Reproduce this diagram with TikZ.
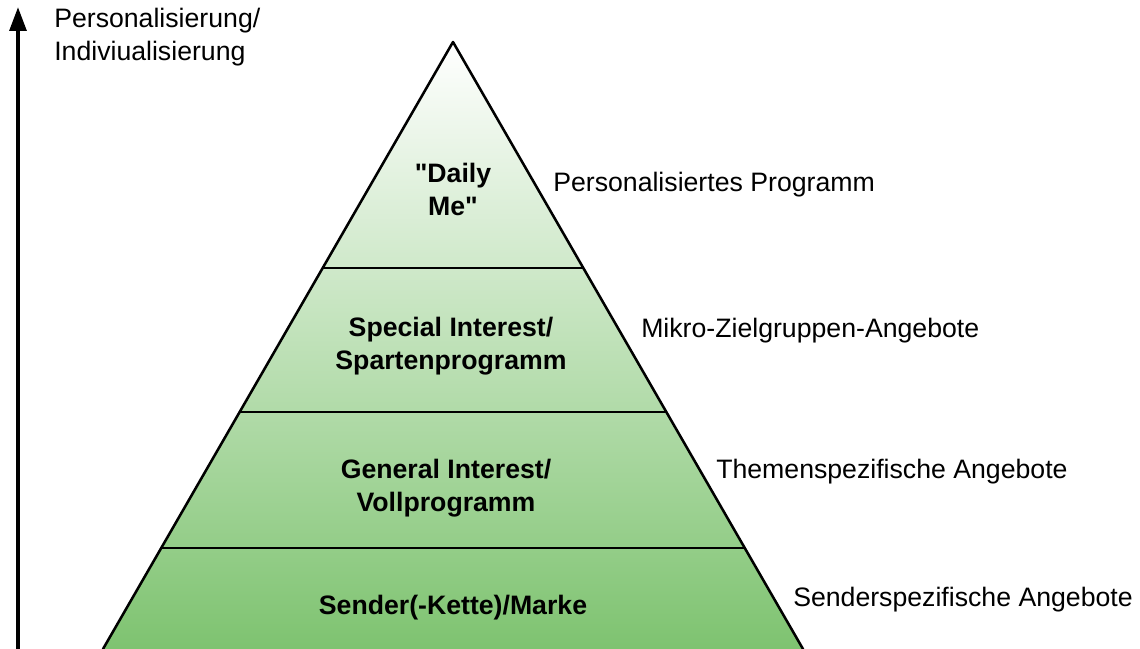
\documentclass[tikz,border=0pt]{standalone}
\usepackage{fontspec}
\setmainfont{Liberation Sans}[Ligatures=TeXOff]
\usetikzlibrary{arrows.meta,calc}
\definecolor{pyrgreen}{RGB}{126,195,112}
\tikzset{
  edge/.style={line width=1.9pt, line join=round, line cap=round},
  divider/.style={line width=1.8pt},
  layertext/.style={font=\fontsize{20}{24.75}\selectfont\bfseries, align=center, text=black, inner sep=0pt},
  sidetext/.style={font=\fontsize{20}{24.75}\selectfont, anchor=west, inner sep=0pt},
  axisarrow/.style={line width=3pt, -{Triangle[length=18pt,width=12.5pt]}}
}
\begin{document}
\begin{tikzpicture}[x=0.75pt,y=-0.75pt]
\useasboundingbox (0,0) rectangle (1140,649);

% pyramid corners
\coordinate (apex) at (453,42);
\coordinate (bl) at (103,649);
\coordinate (br) at (803,649);

% shaded body and outer edges
\shade[top color=white, bottom color=pyrgreen] (apex) -- (br) -- (bl) -- cycle;
\draw[edge] (bl) -- (apex) -- (br);

% layer borders
\coordinate (l1) at ($(apex)!0.3723!(bl)$);
\coordinate (r1) at ($(apex)!0.3723!(br)$);
\coordinate (l2) at ($(apex)!0.6096!(bl)$);
\coordinate (r2) at ($(apex)!0.6096!(br)$);
\coordinate (l3) at ($(apex)!0.8336!(bl)$);
\coordinate (r3) at ($(apex)!0.8336!(br)$);
\draw[divider] (l1) -- (r1);
\draw[divider] (l2) -- (r2);
\draw[divider] (l3) -- (r3);

% layer names
\node[layertext] (daily) at (453,189) {"Daily\\Me"};
\node[layertext] (special) at (451,346) {Special Interest/\\Spartenprogramm};
\node[layertext] (general) at (446,488) {General Interest/\\Vollprogramm};
\node[layertext] (sender) at (453,608) {Sender(-Kette)/Marke};

% side descriptions
\node[sidetext] (dside) at (553,185) {Personalisiertes Programm};
\node[sidetext] (sside) at (641,331) {Mikro-Zielgruppen-Angebote};
\node[sidetext] (gside) at (716,472) {Themenspezifische Angebote};
\node[sidetext] (eside) at (793,600) {Senderspezifische Angebote};

% vertical axis
\coordinate (axbot) at (18,649);
\coordinate (axtop) at (18,7);
\draw[axisarrow] (axbot) -- (axtop);
\node[sidetext, align=left, anchor=north west] (axlabel) at (54,8) {Personalisierung/\\Indiviualisierung};
\end{tikzpicture}
\end{document}
